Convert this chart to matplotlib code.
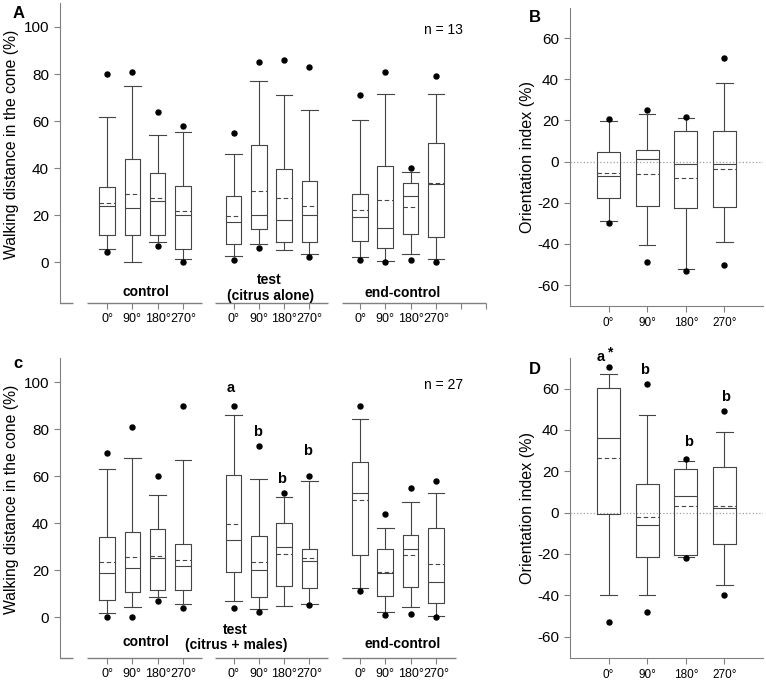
import matplotlib
matplotlib.use('Agg')
import matplotlib.pyplot as plt
from matplotlib.transforms import blended_transform_factory

plt.rcParams['font.family'] = ['Liberation Sans', 'DejaVu Sans']
plt.rcParams['axes.unicode_minus'] = False

# ---- data ----
angles = ['0°', '90°', '180°', '270°']

# walking distance, panel A (control / test citrus alone / end-control), n = 13
a_q1 = [11.5, 11.5, 11.5, 5.7, 7.6, 14.0, 8.5, 8.5, 9.1, 5.9, 11.9, 10.6]
a_med = [23.9, 22.9, 25.9, 19.9, 17.1, 19.9, 18.0, 19.9, 19.1, 14.7, 28.0, 33.3]
a_q3 = [31.8, 44.0, 38.0, 32.5, 27.9, 49.9, 39.7, 34.4, 29.0, 41.0, 33.5, 50.5]
a_mean = [25.3, 28.9, 27.2, 21.9, 19.4, 30.1, 27.2, 24.0, 22.3, 26.2, 23.3, 33.6]
a_lo = [5.5, 0.0, 8.5, 1.3, 2.4, 7.6, 5.0, 3.5, 2.1, 0.4, 3.4, 1.3]
a_hi = [61.5, 74.7, 54.2, 55.4, 45.8, 77.1, 71.1, 64.5, 60.3, 71.6, 38.5, 71.6]
a_out_hi = [80, 81, 64, 58, 55, 85, 86, 83, 71, 81, 40, 79]
a_out_lo = [4.1, None, 6.9, 0, 1.0, 6.1, None, 2.0, 1.0, 0, 1.1, 0.1]

# walking distance, panel c (control / test citrus + males / end-control), n = 27
c_q1 = [7.4, 11.0, 11.6, 11.6, 19.4, 8.5, 13.5, 12.3, 26.6, 8.9, 12.9, 6.1]
c_med = [18.8, 21.0, 25.1, 22.0, 32.9, 20.1, 30.0, 24.0, 53.1, 19.0, 29.1, 15.2]
c_q3 = [34.4, 36.5, 37.8, 31.4, 60.4, 34.6, 40.0, 29.3, 66.0, 28.9, 35.0, 38.0]
c_mean = [23.5, 25.6, 26.3, 24.6, 39.7, 23.5, 26.9, 25.1, 50.0, 19.4, 26.5, 22.8]
c_lo = [1.8, 4.4, 8.6, 5.7, 7.0, 3.7, 5.0, 5.6, 12.5, 2.3, 4.3, 0.4]
c_hi = [63.0, 68.0, 52.0, 66.9, 86.1, 58.8, 51.4, 58.0, 84.4, 38.0, 49.0, 52.9]
c_out_hi = [70, 81, 60, 90, 90, 73, 53, 60, 90, 44, 55, 58]
c_out_lo = [0, 0, 6.9, 4.0, 3.8, 2.3, None, 5.1, 11.2, 1.0, 1.4, 0]
c_letters = ['a', 'b', 'b', 'b']
c_letter_y = [97.5, 78.8, 58.9, 70.6]

# orientation index, panel B
b_q1 = [-17.8, -21.7, -22.6, -22.1]
b_med = [-7.1, 1.3, -1.3, -1.3]
b_q3 = [4.6, 5.7, 14.7, 14.7]
b_mean = [-5.6, -6.1, -8.1, -3.7]
b_lo = [-28.9, -40.4, -52.2, -39.0]
b_hi = [19.6, 23.0, 21.3, 38.3]
b_out_hi = [20.9, 25.1, 21.7, 50.2]
b_out_lo = [-29.9, -48.7, -53.2, -50.1]

# orientation index, panel D
d_q1 = [-0.5, -21.6, -20.7, -15.0]
d_med = [36.0, -6.0, 8.1, 2.1]
d_q3 = [60.3, 13.9, 21.0, 22.0]
d_mean = [26.4, -1.9, 3.2, 3.2]
d_lo = [-40.0, -40.0, -21.5, -35.2]
d_hi = [67.0, 47.2, 25.0, 39.1]
d_out_hi = [70.3, 62.2, 26.0, 49.1]
d_out_lo = [-53.1, -48.0, -22.0, -40.0]
d_letters = ['a', 'b', 'b', 'b']
d_letter_y = [75.5, 68.8, 34.4, 56.1]

W, H = 766, 682
fig = plt.figure(figsize=(W / 100, H / 100), dpi=100)


def px_axes(x0, y0, x1, y1):
    return fig.add_axes([x0 / W, 1 - y1 / H, (x1 - x0) / W, (y1 - y0) / H])


axA = px_axes(60, 3, 487, 303)
axC = px_axes(60, 358.3, 487, 658.3)
axB = px_axes(570, 8, 763, 306)
axD = px_axes(570, 358.3, 763, 657.7)

line_col = '#454545'
spine_col = '#808080'


def make_stats(q1, med, q3, mean, lo, hi, out_hi, out_lo):
    stats = []
    for i in range(len(q1)):
        fl = [v for v in (out_hi[i], out_lo[i]) if v is not None]
        stats.append(dict(q1=q1[i], med=med[i], q3=q3[i], mean=mean[i],
                          whislo=lo[i], whishi=hi[i], fliers=fl))
    return stats


def draw_boxes(ax, stats, pos, w, cw):
    lp = dict(color=line_col, lw=0.8)
    ax.bxp(stats, positions=pos, widths=w, capwidths=cw, showmeans=True,
           meanline=True, manage_ticks=False,
           boxprops=lp, whiskerprops=lp, capprops=lp, medianprops=lp,
           meanprops=dict(color=line_col, lw=0.8, ls=(0, (4, 2.5))),
           flierprops=dict(marker='o', mfc='black', mec='black', ms=3.6, ls='none'))


grp_pos = [0, 1, 2, 3, 5, 6, 7, 8, 10, 11, 12, 13]

# ---- walking distance panels ----
for ax, st, segs, extra, n_txt, test_lbl, ctrl_y, test_y, end_y in [
    (axA, make_stats(a_q1, a_med, a_q3, a_mean, a_lo, a_hi, a_out_hi, a_out_lo),
     [(-1.86, -1.34), (-0.79, 3.75), (4.27, 8.74), (9.29, 15.0)], [14, 15],
     'n = 13', ('test', '(citrus alone)', 6.43, 6.48), -12.8, (-7.7, -14.3), -13.3),
    (axC, make_stats(c_q1, c_med, c_q3, c_mean, c_lo, c_hi, c_out_hi, c_out_lo),
     [(-1.86, -1.34), (-0.79, 3.75), (4.27, 8.74), (9.27, 13.8)], [],
     'n = 27', ('test', '(citrus + males)', 5.06, 5.1), -10.6, (-5.2, -11.6), -11.2),
]:
    draw_boxes(ax, st, grp_pos, 0.62, 0.66)
    ax.set_xlim(-1.86, 15.02)
    ax.set_ylim(-17.4, 110.2)
    for s in ('top', 'right', 'bottom'):
        ax.spines[s].set_visible(False)
    ax.spines['left'].set_color(spine_col)
    trans = blended_transform_factory(ax.transData, ax.transAxes)
    for x0, x1 in segs:
        ax.plot([x0, x1], [0, 0], color=spine_col, lw=1.0, transform=trans,
                clip_on=False, solid_capstyle='butt')
    ax.set_xticks(grp_pos + extra)
    ax.set_xticklabels(angles * 3 + [''] * len(extra))
    ax.set_yticks(range(0, 101, 20))
    ax.tick_params(axis='x', length=4, color=spine_col, labelsize=9, pad=3)
    ax.tick_params(axis='y', length=4, color=spine_col, labelsize=11, pad=4)
    ax.set_ylabel('Walking distance in the cone (%)', fontsize=11.3)
    ax.yaxis.set_label_coords(-0.095, 50, transform=blended_transform_factory(ax.transAxes, ax.transData))
    ax.text(13.3, 98.8, n_txt, fontsize=10, ha='center', va='center')
    ax.text(1.53, ctrl_y, 'control', fontsize=10, fontweight='bold', ha='center', va='center')
    ax.text(test_lbl[2], test_y[0], test_lbl[0], fontsize=10, fontweight='bold', ha='center', va='center')
    ax.text(test_lbl[3], test_y[1], test_lbl[1], fontsize=10, fontweight='bold', ha='center', va='center')
    ax.text(11.7, end_y, 'end-control', fontsize=10, fontweight='bold', ha='center', va='center')

# letters over the test boxes in c
for x, lab, y in zip([4.89, 5.96, 6.9, 7.92], c_letters, c_letter_y):
    axC.text(x, y, lab, fontsize=10.5, fontweight='bold', ha='center', va='center', clip_on=False)

# ---- orientation index panels ----
for ax, st in [(axB, make_stats(b_q1, b_med, b_q3, b_mean, b_lo, b_hi, b_out_hi, b_out_lo)),
               (axD, make_stats(d_q1, d_med, d_q3, d_mean, d_lo, d_hi, d_out_hi, d_out_lo))]:
    ax.axhline(0, color='#a0a0a0', ls=':', lw=0.9, zorder=0)
    draw_boxes(ax, st, [1, 2, 3, 4], 0.6, 0.43)
    ax.set_xlim(0, 5.0)
    ax.set_ylim(-70.2, 74.7)
    for s in ('top', 'right'):
        ax.spines[s].set_visible(False)
    ax.spines['left'].set_color(spine_col)
    ax.spines['bottom'].set_color(spine_col)
    ax.set_xticks([1, 2, 3, 4])
    ax.set_xticklabels(angles)
    ax.set_yticks(range(-60, 61, 20))
    ax.tick_params(axis='x', length=4, color=spine_col, labelsize=8.5, pad=4)
    ax.tick_params(axis='y', length=4, color=spine_col, labelsize=11, pad=4)
    ax.set_ylabel('Orientation index (%)', fontsize=11.6)
    ax.yaxis.set_label_coords(-0.18, 0.5)

for x, lab, y in zip([0.8, 1.94, 3.06, 4.02], d_letters, d_letter_y):
    axD.text(x, y, lab, fontsize=10.5, fontweight='bold', ha='center', va='center', clip_on=False)
axD.text(1.02, 77.3, '*', fontsize=10, fontweight='bold', ha='center', va='center', clip_on=False)

# panel letters
fig.text(19 / W, 1 - 13 / H, 'A', fontsize=12, fontweight='bold', ha='center', va='center')
fig.text(535 / W, 1 - 17 / H, 'B', fontsize=12, fontweight='bold', ha='center', va='center')
fig.text(18 / W, 1 - 364 / H, 'c', fontsize=12, fontweight='bold', ha='center', va='center')
fig.text(535 / W, 1 - 369 / H, 'D', fontsize=12, fontweight='bold', ha='center', va='center')

fig.savefig('out.png', dpi=100)
